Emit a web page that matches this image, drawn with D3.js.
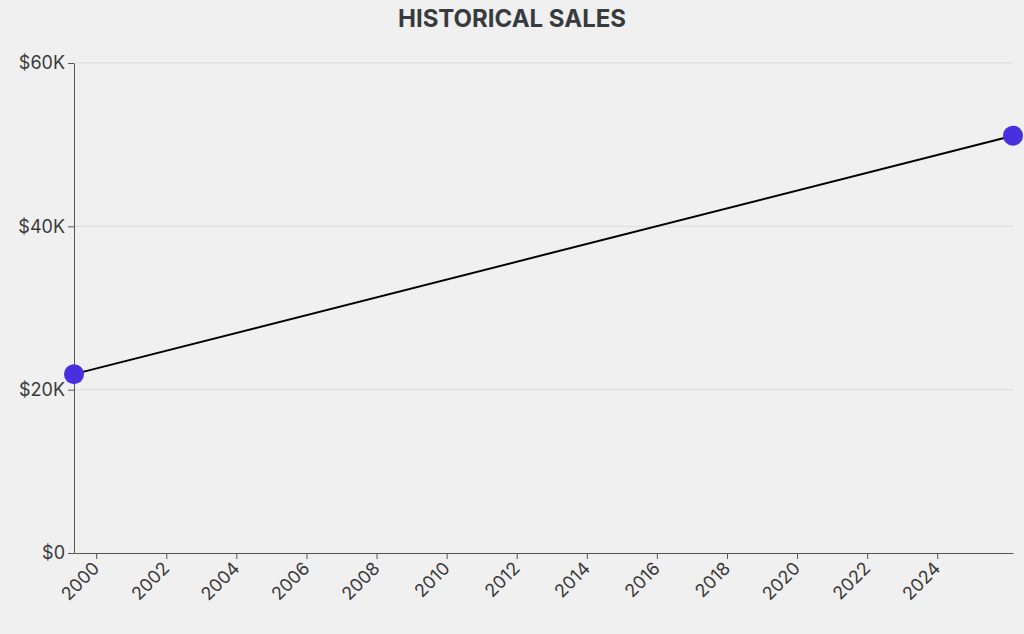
<!DOCTYPE html>
<html><head><meta charset="utf-8">
<script src="https://cdn.jsdelivr.net/npm/d3@7"></script>
<style>
html,body{margin:0;padding:0;background:#f0f0f0;}
svg{display:block;font-family:Inter, "Noto Sans", sans-serif;}
</style></head><body>
<svg id="chart" width="1024" height="634"></svg>
<script>
const dates = ["1999-05-15", "2026-03-01"];
const sales = [21900, 51100];
const yTicks = [0, 20000, 40000, 60000];
const xTickYears = [2000, 2002, 2004, 2006, 2008, 2010, 2012, 2014, 2016, 2018, 2020, 2022, 2024];
const title = "HISTORICAL SALES";

const parse = d3.timeParse("%Y-%m-%d");
const data = dates.map((d, i) => ({date: parse(d), value: sales[i]}));

const svg = d3.select("#chart");
const W = 1024, H = 634;
const m = {top: 63, right: 11, bottom: 81, left: 74};

const x = d3.scaleTime().domain(d3.extent(data, d => d.date)).range([m.left, W - m.right]);
const y = d3.scaleLinear().domain([0, 60000]).range([H - m.bottom, m.top]);

svg.append("rect").attr("width", W).attr("height", H).attr("fill", "#f0f0f0");

svg.append("text").attr("x", 512).attr("y", 27).attr("text-anchor", "middle")
  .style("font-size", "24px").attr("font-weight", 700).attr("fill", "#373b3e").text(title);

// grid
svg.append("g").selectAll("line").data(yTicks.slice(1)).join("line")
  .attr("x1", m.left).attr("x2", W - m.right)
  .attr("y1", d => y(d)).attr("y2", d => y(d))
  .attr("stroke", "#dcdcdc").attr("stroke-width", 1);

const fmt = d => d === 0 ? "$0" : "$" + (d / 1000) + "K";

const yAxis = svg.append("g").attr("transform", `translate(${m.left},0)`)
  .call(d3.axisLeft(y).tickValues(yTicks).tickFormat(fmt).tickSizeOuter(0));
yAxis.selectAll("text").style("font-size", "18px").attr("fill", "#3a3a3a").style("font-family", "Inter");
yAxis.selectAll("line,path").attr("stroke", "#555");

const xAxis = svg.append("g").attr("transform", `translate(0,${H - m.bottom})`)
  .call(d3.axisBottom(x).tickValues(xTickYears.map(yr => new Date(yr, 0, 1)))
    .tickFormat(d3.timeFormat("%Y")).tickSizeOuter(0));
xAxis.selectAll("text").style("font-size", "18px").attr("fill", "#3a3a3a").style("font-family", "Inter")
  .attr("text-anchor", "end").attr("transform", "rotate(-45)").attr("dx", "-0.5em").attr("dy", "0.3em");
xAxis.selectAll("line,path").attr("stroke", "#555");

svg.append("path").datum(data)
  .attr("fill", "none").attr("stroke", "#000").attr("stroke-width", 2)
  .attr("d", d3.line().x(d => x(d.date)).y(d => y(d.value)));

svg.append("g").selectAll("circle").data(data).join("circle")
  .attr("cx", d => x(d.date)).attr("cy", d => y(d.value)).attr("r", 10)
  .attr("fill", "#4a2fe0");
</script>
</body></html>
